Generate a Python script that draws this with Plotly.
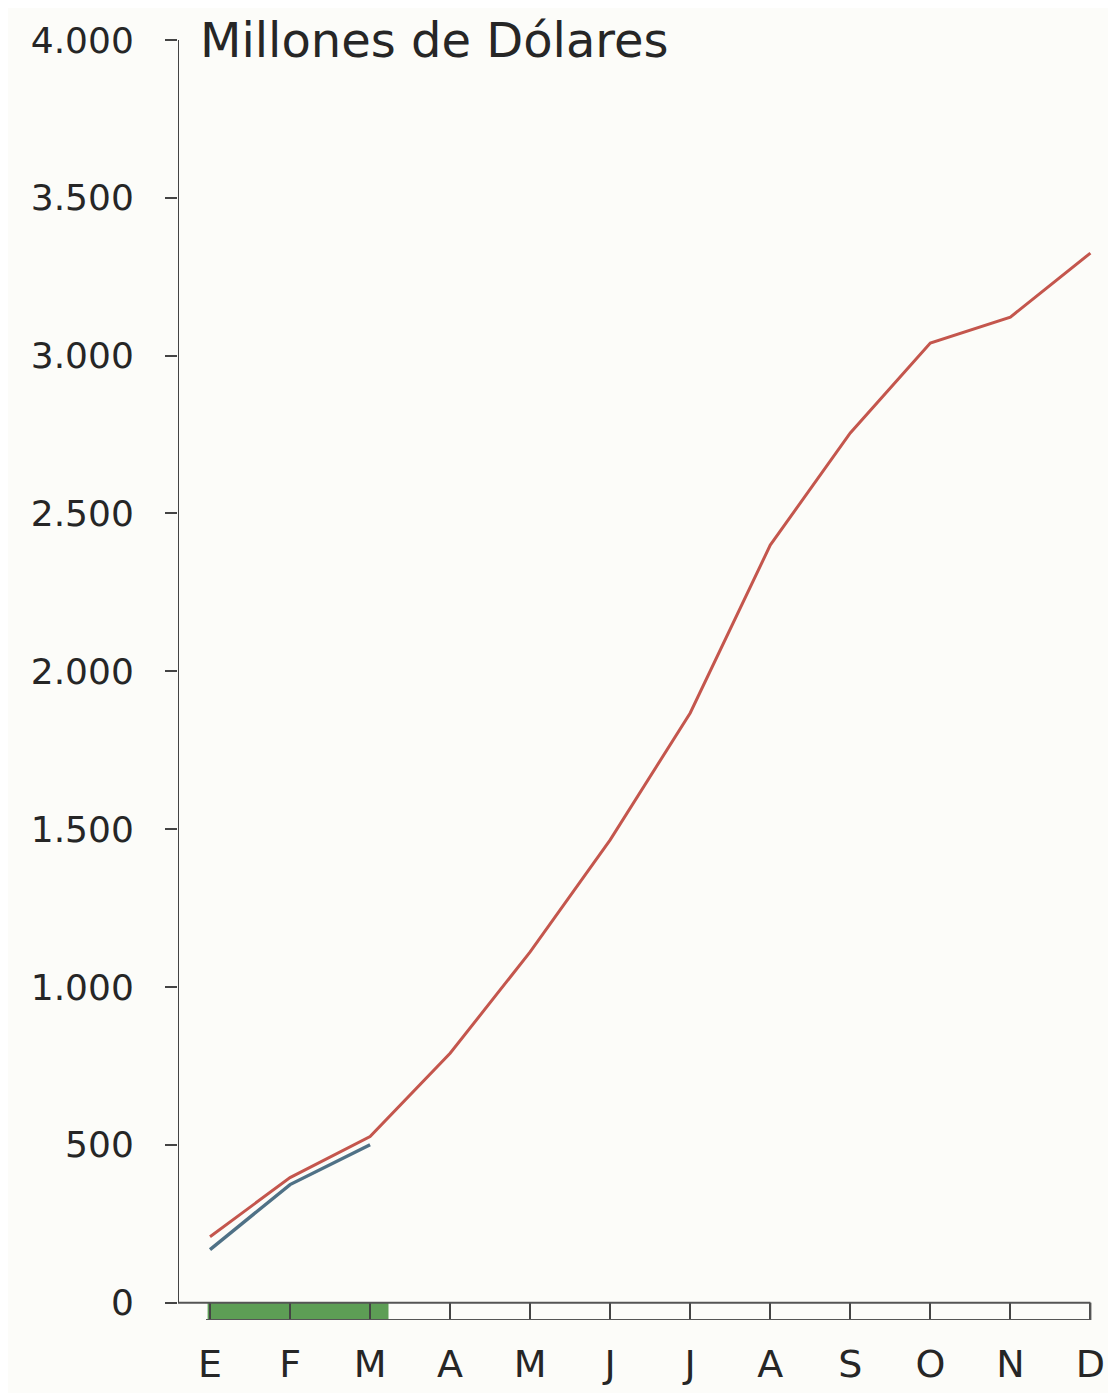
import plotly.graph_objects as go

months = ["E", "F", "M", "A", "M", "J", "J", "A", "S", "O", "N", "D"]
red_values = [209, 396, 526, 790, 1111, 1466, 1868, 2400, 2755, 3040, 3122, 3325]
blue_values = [168, 374, 500]
ytick_vals = [0, 500, 1000, 1500, 2000, 2500, 3000, 3500, 4000]
ytick_text = ["0", "500", "1.000", "1.500", "2.000", "2.500", "3.000", "3.500", "4.000"]
progress_months = 3  # E, F, M highlighted on the bar
title_text = "Millones de Dólares"

x_idx = list(range(len(months)))
FONT = "DejaVu Sans"
INK = "#262626"
BG = "#fcfcf9"

fig = go.Figure()
fig.add_trace(go.Scatter(x=x_idx[:len(blue_values)], y=blue_values, mode="lines",
                         line=dict(color="#4f7186", width=3.4), hoverinfo="skip"))
fig.add_trace(go.Scatter(x=x_idx, y=red_values, mode="lines",
                         line=dict(color="#c4564d", width=3), hoverinfo="skip"))

x0, x1 = -0.4, 11.0
band_low = -55
shapes = [
    # green progress fill
    dict(type="rect", xref="x", yref="y", x0=-0.03, x1=progress_months - 1 + 0.23,
         y0=band_low, y1=0, fillcolor="#5d9e55", line=dict(width=0), layer="below"),
    # band top line
    dict(type="line", xref="x", yref="y", x0=x0, x1=x1, y0=0, y1=0,
         line=dict(color="#555555", width=2)),
    # band bottom line
    dict(type="line", xref="x", yref="y", x0=-0.05, x1=x1, y0=band_low, y1=band_low,
         line=dict(color="#555555", width=2)),
    # band right end
    dict(type="line", xref="x", yref="y", x0=x1, x1=x1, y0=band_low, y1=0,
         line=dict(color="#555555", width=2)),
    # y axis line
    dict(type="line", xref="x", yref="y", x0=x0, x1=x0, y0=0, y1=4000,
         line=dict(color="#444444", width=2)),
]

fig.update_layout(
    width=1116, height=1393,
    margin=dict(l=170, r=24, t=32, b=81),
    paper_bgcolor=BG, plot_bgcolor=BG,
    showlegend=False,
    shapes=shapes,
    font=dict(family=FONT, color=INK),
    xaxis=dict(range=[x0, 11.12], tickmode="array", tickvals=x_idx, ticktext=months,
               showgrid=False, zeroline=False, showline=False,
               ticks="inside", ticklen=17, tickwidth=2, tickcolor="#444444",
               tickfont=dict(size=38, family=FONT, color=INK),
               ticklabelstandoff=18),
    yaxis=dict(range=[band_low, 4000], tickmode="array", tickvals=ytick_vals, ticktext=ytick_text,
               showgrid=False, zeroline=False, showline=False,
               ticks="outside", ticklen=12, tickwidth=2, tickcolor="#444444",
               tickfont=dict(size=36, family=FONT, color=INK),
               ticklabelstandoff=24),
    annotations=[dict(text=title_text, xref="x", yref="y", x=-0.15, y=4000,
                      xanchor="left", yanchor="middle", showarrow=False,
                      font=dict(size=48, family=FONT, color=INK))],
)

fig.write_html("out.html")
